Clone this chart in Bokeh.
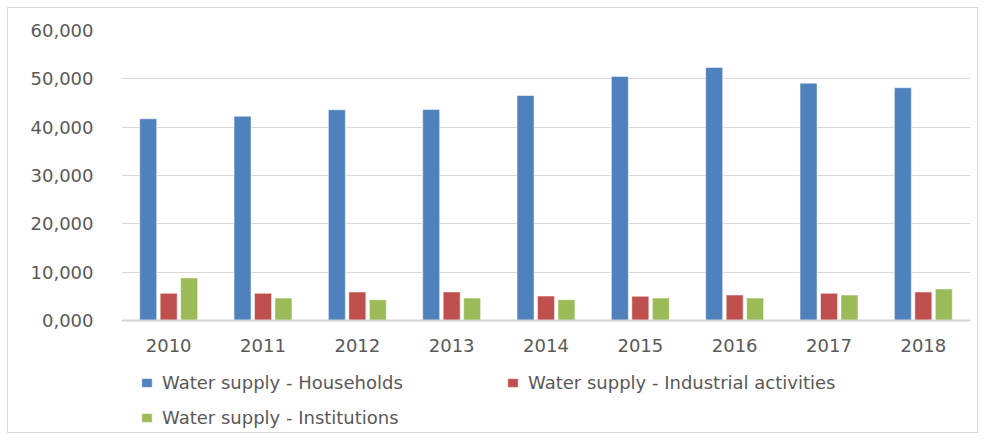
from bokeh.plotting import figure
from bokeh.models import ColumnDataSource, FactorRange, FixedTicker, Legend, LegendItem, Span
from bokeh.transform import dodge
from bokeh.core.properties import value
from bokeh.embed import file_html
from bokeh.resources import INLINE

years = ["2010", "2011", "2012", "2013", "2014", "2015", "2016", "2017", "2018"]
households = [41730, 42270, 43600, 43660, 46550, 50480, 52350, 49100, 48150]
industrial = [5620, 5620, 5900, 5900, 5060, 5000, 5270, 5620, 5900]
institutions = [8810, 4650, 4300, 4650, 4300, 4650, 4650, 5270, 6520]
y_ticks = [0, 10000, 20000, 30000, 40000, 50000, 60000]
y_tick_labels = ["0,000", "10,000", "20,000", "30,000", "40,000", "50,000", "60,000"]
series_names = ["Water supply - Households", "Water supply - Industrial activities",
                "Water supply - Institutions"]
colors = ["#4F81BD", "#C0504D", "#9BBB59"]

FONT = "DejaVu Sans"
TXT = "#595959"

# frame spans from the 60,000 gridline down to the bottom of the chart box;
# the value axis 0..60000 takes the upper 290 px of the 401 px frame
FRAME_H = 401
AXIS_PX = 290
y_top = 60000
y_bottom = -(FRAME_H - AXIS_PX) / AXIS_PX * y_top

src = ColumnDataSource(dict(year=years, h=households, i=industrial, s=institutions,
                            zero=[0] * len(years)))

p = figure(x_range=FactorRange(*years, range_padding=0), y_range=(y_bottom, y_top),
           frame_width=849, frame_height=FRAME_H, output_backend="svg", toolbar_location=None,
           min_border_left=113, min_border_right=7, min_border_top=22, min_border_bottom=1)
p.styles = {"border": "1px solid #d9d9d9", "margin-left": "7px", "margin-top": "7px"}
p.outline_line_color = None
p.background_fill_color = "white"

p.xgrid.grid_line_color = None
p.ygrid.ticker = FixedTicker(ticks=y_ticks)
p.ygrid.grid_line_color = "#d9d9d9"
p.ygrid.grid_line_width = 1.2

p.add_layout(Span(location=0, dimension="width", line_color="#d4d4d4", line_width=2))

offs = [-0.217, 0.0, 0.217]
renderers = []
for col, off, c in zip(["h", "i", "s"], offs, colors):
    r = p.vbar(x=dodge("year", off, range=p.x_range), top=col, width=0.18, source=src,
               fill_color=c, line_color="white", line_alpha=0.5, line_width=1)
    renderers.append(r)

# category labels under the baseline
p.text(x="year", y="zero", text="year", source=src, y_offset=25,
       text_align="center", text_baseline="middle", text_font=value(FONT),
       text_font_size="18px", text_color=TXT)

p.xaxis.visible = False

p.yaxis.ticker = FixedTicker(ticks=y_ticks)
p.yaxis.major_label_overrides = {t: l for t, l in zip(y_ticks, y_tick_labels)}
p.yaxis.axis_line_color = None
p.yaxis.major_tick_line_color = None
p.yaxis.minor_tick_line_color = None
p.yaxis.major_label_text_font = FONT
p.yaxis.major_label_text_font_size = "18px"
p.yaxis.major_label_text_color = TXT
p.yaxis.major_label_standoff = 22

# column-major order so that Institutions ends up under Households
order = [0, 2, 1]
legend = Legend(items=[LegendItem(label=series_names[k], renderers=[renderers[k]]) for k in order],
                ncols=2, location=(19, 3))
legend.label_text_font = FONT
legend.label_text_font_size = "18px"
legend.label_text_color = TXT
legend.glyph_width = 13
legend.glyph_height = 11
legend.label_width = 330
legend.label_height = 20
legend.label_standoff = 9
legend.spacing = 14
legend.border_line_color = None
legend.background_fill_alpha = 0
legend.margin = 0
legend.padding = 0
p.add_layout(legend, "center")

open("out.html", "w").write(file_html(p, INLINE))
